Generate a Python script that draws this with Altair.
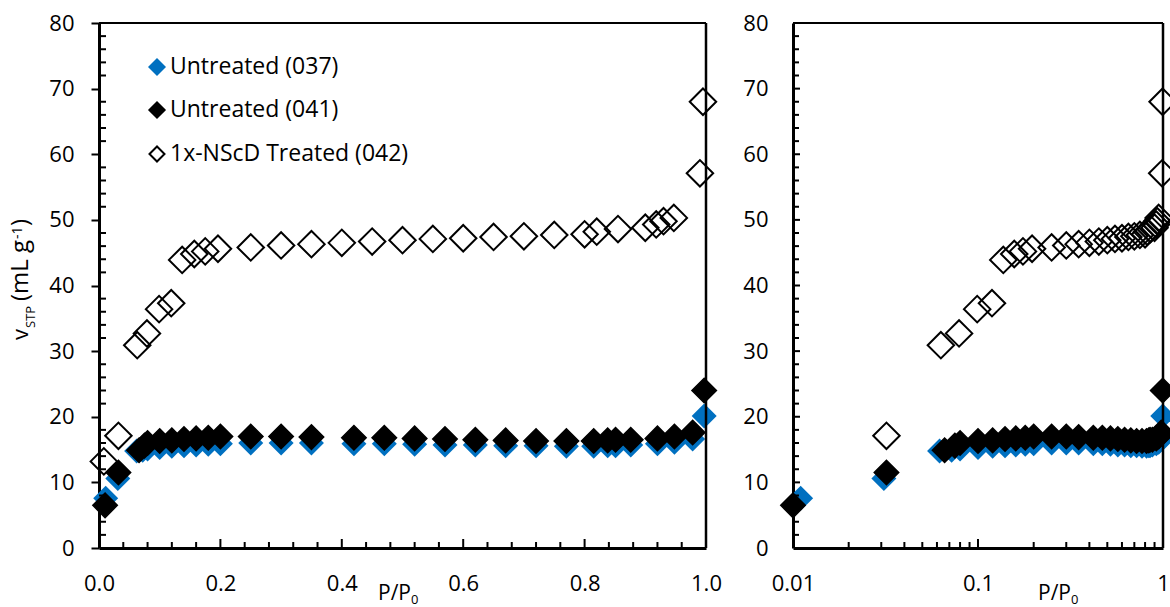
import altair as alt
import pandas as pd

FONT = "Open Sans"
BLUE = "#0070C0"

# ---------------- data ----------------
X_037 = [0.011, 0.031, 0.062, 0.072, 0.080, 0.100, 0.120, 0.140, 0.160, 0.180, 0.200,
         0.25, 0.30, 0.35, 0.42, 0.47, 0.52, 0.57, 0.62, 0.67, 0.72, 0.77,
         0.815, 0.838, 0.851, 0.876, 0.92, 0.948, 0.978, 0.997]
Y_037 = [7.6, 10.6, 14.8, 14.9, 15.1, 15.3, 15.5, 15.6, 15.7, 15.8, 15.9,
         16.0, 16.0, 16.0, 15.9, 15.9, 15.8, 15.7, 15.7, 15.6, 15.6, 15.5,
         15.5, 15.6, 15.6, 15.7, 15.9, 16.1, 16.6, 20.1]

X_041 = [0.010, 0.032, 0.066, 0.075, 0.080, 0.100, 0.120, 0.140, 0.160, 0.180, 0.200,
         0.25, 0.30, 0.35, 0.42, 0.47, 0.52, 0.57, 0.62, 0.67, 0.72, 0.77,
         0.815, 0.838, 0.851, 0.876, 0.92, 0.948, 0.978, 0.997]
Y_041 = [6.5, 11.5, 14.9, 15.6, 16.0, 16.3, 16.4, 16.6, 16.7, 16.8, 17.0,
         17.0, 17.0, 16.9, 16.8, 16.8, 16.7, 16.6, 16.5, 16.4, 16.3, 16.3,
         16.3, 16.4, 16.5, 16.5, 16.7, 17.0, 17.6, 24.0]

X_042 = [0.008, 0.032, 0.063, 0.079, 0.099, 0.119, 0.137, 0.157, 0.175, 0.196,
         0.25, 0.30, 0.35, 0.40, 0.45, 0.50, 0.55, 0.60, 0.65, 0.70, 0.75, 0.80,
         0.82, 0.855, 0.90, 0.918, 0.93, 0.947, 0.99, 0.995]
Y_042 = [13.2, 17.1, 30.9, 32.7, 36.4, 37.3, 43.9, 44.8, 45.2, 45.6,
         45.8, 46.1, 46.3, 46.5, 46.7, 46.9, 47.1, 47.2, 47.4, 47.5, 47.7, 47.8,
         48.2, 48.6, 48.8, 49.3, 49.8, 50.3, 57.1, 68.0]

LEGEND_LABELS = ["Untreated (037)", "Untreated (041)", "1x-NScD Treated (042)"]

LIN_X_TICKS = [0.0, 0.2, 0.4, 0.6, 0.8, 1.0]
LIN_X_INNER_MAJOR = [0.2, 0.4, 0.6, 0.8]
LIN_X_MINOR = [0.04, 0.08, 0.12, 0.16, 0.24, 0.28, 0.32, 0.36, 0.44, 0.48, 0.52, 0.56,
               0.64, 0.68, 0.72, 0.76, 0.84, 0.88, 0.92, 0.96]
LOG_X_TICKS = [0.01, 0.1, 1]
LOG_X_INNER_MAJOR = [0.1]
LOG_X_MINOR = [0.02, 0.03, 0.04, 0.05, 0.06, 0.07, 0.08, 0.09,
               0.2, 0.3, 0.4, 0.5, 0.6, 0.7, 0.8, 0.9]
Y_TICKS = [0, 10, 20, 30, 40, 50, 60, 70, 80]
Y_INNER_MAJOR = [10, 20, 30, 40, 50, 60, 70]
Y_MINOR = [v for v in range(2, 80, 2) if v % 10 != 0]

df037 = pd.DataFrame({"x": X_037, "y": Y_037})
df041 = pd.DataFrame({"x": X_041, "y": Y_041})
df042 = pd.DataFrame({"x": X_042, "y": Y_042})
ONE = pd.DataFrame({"k": [0]})

# ---------------- scales and axes ----------------
PLOT_H = 525
xs_lin = alt.Scale(domain=[0, 1], range=[0, 607], nice=False, zero=False)
xs_log = alt.Scale(type="log", domain=[0.01, 1], range=[694, 1064], nice=False)
ys_l = alt.Scale(domain=[0, 80], nice=False, zero=False)
ys_r = alt.Scale(domain=[0, 80], nice=False, zero=False)

common = dict(grid=False, title=None, domainColor="black", domainWidth=3,
              labelFont=FONT, labelFontSize=22, labelColor="black")
ax_x_lin = alt.Axis(orient="bottom", values=LIN_X_TICKS, format=".1f", labelFlush=False,
                    ticks=False, tickSize=0, labelPadding=25, **common)
ax_x_log = alt.Axis(orient="bottom", values=LOG_X_TICKS, format="~g", labelFlush=False,
                    ticks=False, tickSize=0, labelPadding=25, labelOverlap=False, **common)
ax_y_l = alt.Axis(orient="left", values=Y_TICKS, ticks=True, tickSize=8, tickWidth=2,
                  tickColor="black", labelPadding=17, **common)
ax_y_r = alt.Axis(orient="left", offset=-694, values=Y_TICKS, ticks=False, tickSize=0,
                  labelPadding=25, **common)


def X(field, scale, axis):
    return alt.X(field, type="quantitative", scale=scale, axis=axis)


def Y(field, scale, axis):
    return alt.Y(field, type="quantitative", scale=scale, axis=axis)


def series_layers(xs, xa, ys, ya, log=False):
    out = []
    specs = [
        (df037, dict(filled=True, color=BLUE, size=625, strokeWidth=0)),
        (df041, dict(filled=True, fill="black", stroke="black", size=600, strokeWidth=1.5)),
        (df042, dict(filled=False, stroke="black", size=700, strokeWidth=2)),
    ]
    for df, st in specs:
        c = alt.Chart(df)
        if log:
            c = c.transform_filter("datum.x >= 0.01")
        out.append(c.mark_point(shape="diamond", opacity=1, **st).encode(
            x=X("x", xs, xa), y=Y("y", ys, ya)))
    return out


def xtick_rules(vals, length, xs, xa, ys, ya):
    df = pd.DataFrame({"v": vals, "y0": [0] * len(vals)})
    return alt.Chart(df).mark_rule(color="black", strokeWidth=2, y2Offset=-length).encode(
        x=X("v", xs, xa), y=Y("y0", ys, ya), y2="y0")


def ytick_rules(vals, x0, length, xs, xa, ys, ya):
    df = pd.DataFrame({"v": vals, "x0": [x0] * len(vals)})
    return alt.Chart(df).mark_rule(color="black", strokeWidth=2, x2Offset=length).encode(
        x=X("x0", xs, xa), x2="x0", y=Y("v", ys, ya))


def border(x0, x1, xs, xa, ys, ya):
    top = alt.Chart(pd.DataFrame({"a": [x0], "b": [x1], "y": [80]})).mark_rule(
        color="black", strokeWidth=2).encode(x=X("a", xs, xa), x2="b", y=Y("y", ys, ya))
    right = alt.Chart(pd.DataFrame({"a": [x1], "y0": [0], "y1": [80]})).mark_rule(
        color="black", strokeWidth=2.5).encode(x=X("a", xs, xa), y=Y("y0", ys, ya), y2="y1")
    return [top, right]


def label(txt, x, y, size, angle=0, align="left", baseline="alphabetic"):
    return alt.Chart(ONE).mark_text(text=txt, font=FONT, fontSize=size, angle=angle,
                                    align=align, baseline=baseline, color="black").encode(
        x=alt.value(x), y=alt.value(y))


def legend_layers():
    out = []
    styles = [
        dict(filled=True, color=BLUE, size=324, strokeWidth=0),
        dict(filled=True, fill="black", stroke="black", size=256, strokeWidth=1.5),
        dict(filled=False, stroke="black", size=225, strokeWidth=2),
    ]
    ys = [44, 87, 131]
    for lab, st, yy in zip(LEGEND_LABELS, styles, ys):
        out.append(alt.Chart(ONE).mark_point(shape="diamond", opacity=1, **st).encode(
            x=alt.value(58), y=alt.value(yy)))
        out.append(label(lab, 71, yy, 23, baseline="middle"))
    return out


# ---------------- left panel (linear) ----------------
L = dict(xs=xs_lin, xa=ax_x_lin, ys=ys_l, ya=ax_y_l)
left_layers = (
    series_layers(**L)
    + border(0, 1, **L)
    + [xtick_rules(LIN_X_INNER_MAJOR, 9, **L), xtick_rules(LIN_X_MINOR, 6, **L),
       ytick_rules(Y_MINOR, 0, 7, **L)]
    + legend_layers()
    + [label("v", -71, 317, 22, angle=270),
       label("STP", -64, 305, 13, angle=270),
       label("(mL g", -71, 278, 24, angle=270),
       label("-1", -77, 216, 14, angle=270),
       label(")", -71, 203, 24, angle=270),
       label("P/P", 279, 577, 21),
       label("0", 312, 581, 13)]
)
left = alt.layer(*left_layers)

# ---------------- right panel (log) ----------------
R = dict(xs=xs_log, xa=ax_x_log, ys=ys_r, ya=ax_y_r)
right_layers = (
    series_layers(log=True, **R)
    + border(0.01, 1, **R)
    + [xtick_rules(LOG_X_INNER_MAJOR, 9, **R), xtick_rules(LOG_X_MINOR, 6, **R),
       ytick_rules(Y_INNER_MAJOR, 0.01, 7, **R), ytick_rules(Y_MINOR, 0.01, 6, **R)]
    + [label("P/P", 939, 577, 21), label("0", 972, 581, 13)]
)
right = alt.layer(*right_layers)

chart = (
    alt.layer(left, right)
    .resolve_scale(x="independent", y="independent")
    .properties(width=1071, height=PLOT_H,
                padding={"left": 99, "top": 23, "right": 0, "bottom": 59},
                autosize=alt.AutoSizeParams(type="none"),
                background="white")
    .configure_view(stroke=None)
)

chart.save("out.html", embed_options={"renderer": "svg", "actions": False})
